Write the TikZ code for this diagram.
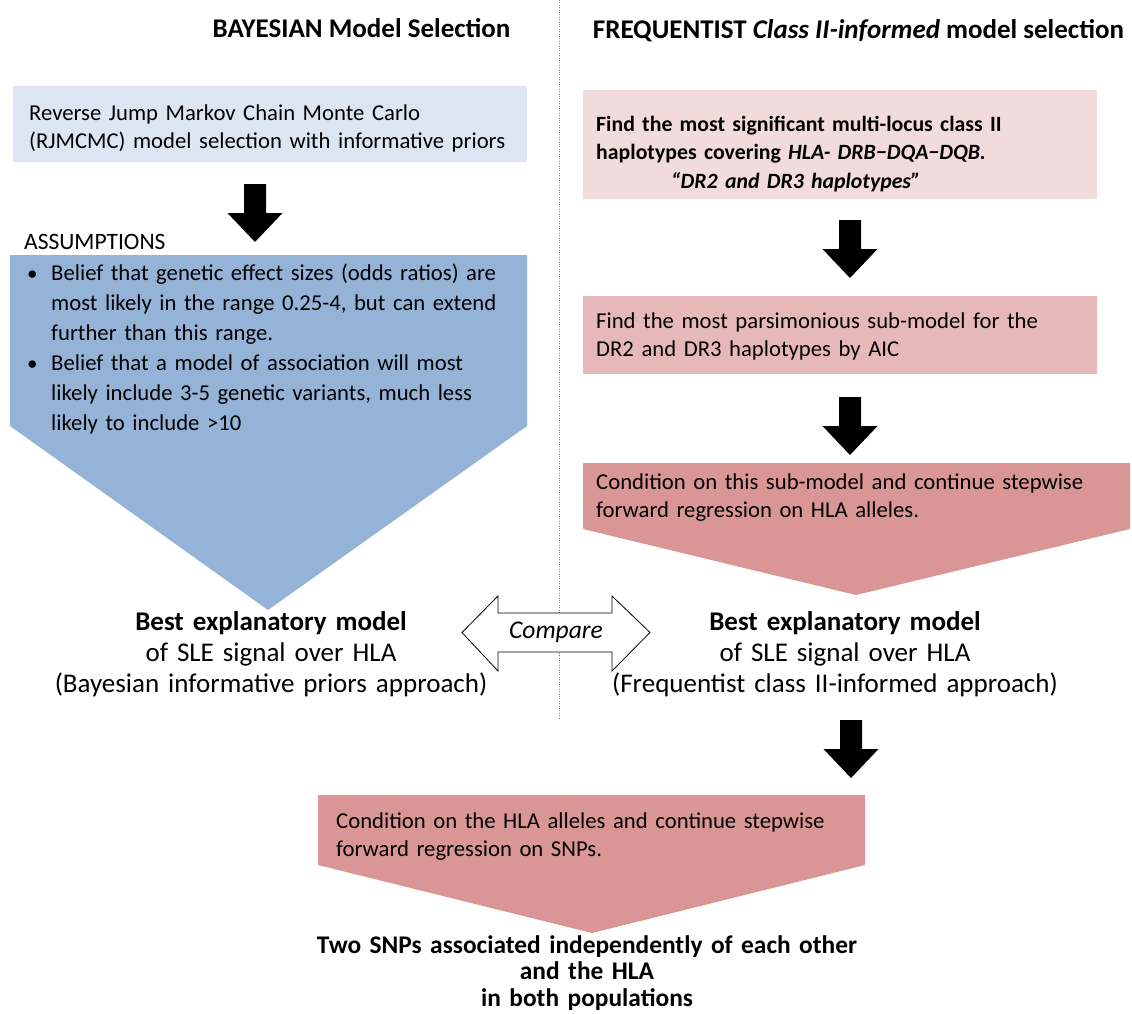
\documentclass[tikz,border=0pt]{standalone}
\usepackage{fontspec}
\setmainfont{Carlito}
\usetikzlibrary{positioning}
\definecolor{paleblue}{HTML}{DCE6F2}
\definecolor{midblue}{HTML}{95B3D7}
\definecolor{palepink}{HTML}{F2DCDB}
\definecolor{midpink}{HTML}{E6B9B8}
\definecolor{rosered}{HTML}{D99694}
\tikzset{
  boxtext/.style={anchor=base west,inner sep=0pt,align=left,text width=#1,font=\fontsize{22.7}{28}\selectfont},
  boxtext/.default=540pt,
  heading/.style={anchor=base,inner sep=0pt,font=\fontsize{27}{30}\selectfont\bfseries},
  result/.style={anchor=base,inner sep=0pt,align=center,text width=560pt,font=\fontsize{27}{31}\selectfont},
  blockdown/.pic={\fill[black] (-11,0) -- (11,0) -- (11,29) -- (27.5,29) -- (0,58) -- (-27.5,29) -- (-11,29) -- cycle;}
}
\begin{document}
\begin{tikzpicture}[x=1pt,y=-1pt]
  \useasboundingbox (0,0) rectangle (1132,1013);
  \draw[dotted,gray] (559,0) -- (559,718);
  \node[heading](bayes)at(361.5,37.5){BAYESIAN Model Selection};
  \node[heading](freq)at(858.5,38){FREQUENTIST \textit{Class II-informed} model selection};
  % left column
  \fill[paleblue](13,86)rectangle(527,162);
  \node[boxtext](rj)at(29,120){Reverse Jump Markov Chain Monte Carlo\\(RJMCMC) model selection with informative priors};
  \pic at (255,184){blockdown};
  \node[anchor=base west,inner sep=0pt,font=\fontsize{23.5}{28}\selectfont](assum)at(24,249){ASSUMPTIONS};
  \fill[midblue](10,255)--(527,255)--(527,426)--(268,610)--(10,426)--cycle;
  \node[anchor=base west,inner sep=0pt,font=\fontsize{21}{30}\selectfont](dot1)at(27,280){\textbullet};
  \node[boxtext=540pt,font=\fontsize{22.7}{30}\selectfont](belief1)at(51,280){Belief that genetic effect sizes (odds ratios) are\\most likely in the range 0.25-4, but can extend\\further than this range.};
  \node[anchor=base west,inner sep=0pt,font=\fontsize{21}{30}\selectfont](dot2)at(27,370){\textbullet};
  \node[boxtext=540pt,font=\fontsize{22.7}{30}\selectfont](belief2)at(51,370){Belief that a model of association will most\\likely include 3-5 genetic variants, much less\\likely to include >10};
  \node[result](bestl)at(271,630){{\bfseries Best explanatory model}\\of SLE signal over HLA\\(Bayesian informative priors approach)};
  % right column
  \fill[palepink](583,90)rectangle(1097,199);
  \node[boxtext,font=\fontsize{21.8}{28.5}\selectfont\bfseries](hap)at(596,131){Find the most significant multi-locus class II\\haplotypes covering \textit{HLA- DRB−DQA−DQB.}\\\hspace*{75pt}\textit{“DR2 and DR3 haplotypes”}};
  \pic at (850,220){blockdown};
  \fill[midpink](583,296)rectangle(1097,374);
  \node[boxtext](aic)at(596,328){Find the most parsimonious sub-model for the\\DR2 and DR3 haplotypes by AIC};
  \pic at (850,397){blockdown};
  \fill[rosered](583,463)--(1130,463)--(1130,529)--(856,595)--(583,529)--cycle;
  \node[boxtext](cond)at(596,489){Condition on this sub-model and continue stepwise\\forward regression on HLA alleles.};
  \node[result](bestr)at(845,630){{\bfseries Best explanatory model}\\of SLE signal over HLA\\\hspace*{-20pt}(Frequentist class II-informed approach)};
  % compare
  \draw[fill=white,line width=0.8pt](462,632.5)--(498,596)--(498,613)--(612,613)--(612,596)--(650,632.5)--(612,671)--(612,652)--(498,652)--(498,671)--cycle;
  \node[inner sep=0pt,font=\fontsize{25.5}{28}\selectfont\itshape](cmp)at(556,632){Compare};
  \pic at (851,720){blockdown};
  % bottom
  \fill[rosered](318,795)--(865,795)--(865,865)--(592,933)--(318,865)--cycle;
  \node[boxtext](snp)at(336,828){Condition on the HLA alleles and continue stepwise\\forward regression on SNPs.};
  \node[result,font=\fontsize{25.4}{26.5}\selectfont\bfseries](two)at(587,953){Two SNPs associated independently of each other\\and the HLA\\in both populations};
\end{tikzpicture}
\end{document}
